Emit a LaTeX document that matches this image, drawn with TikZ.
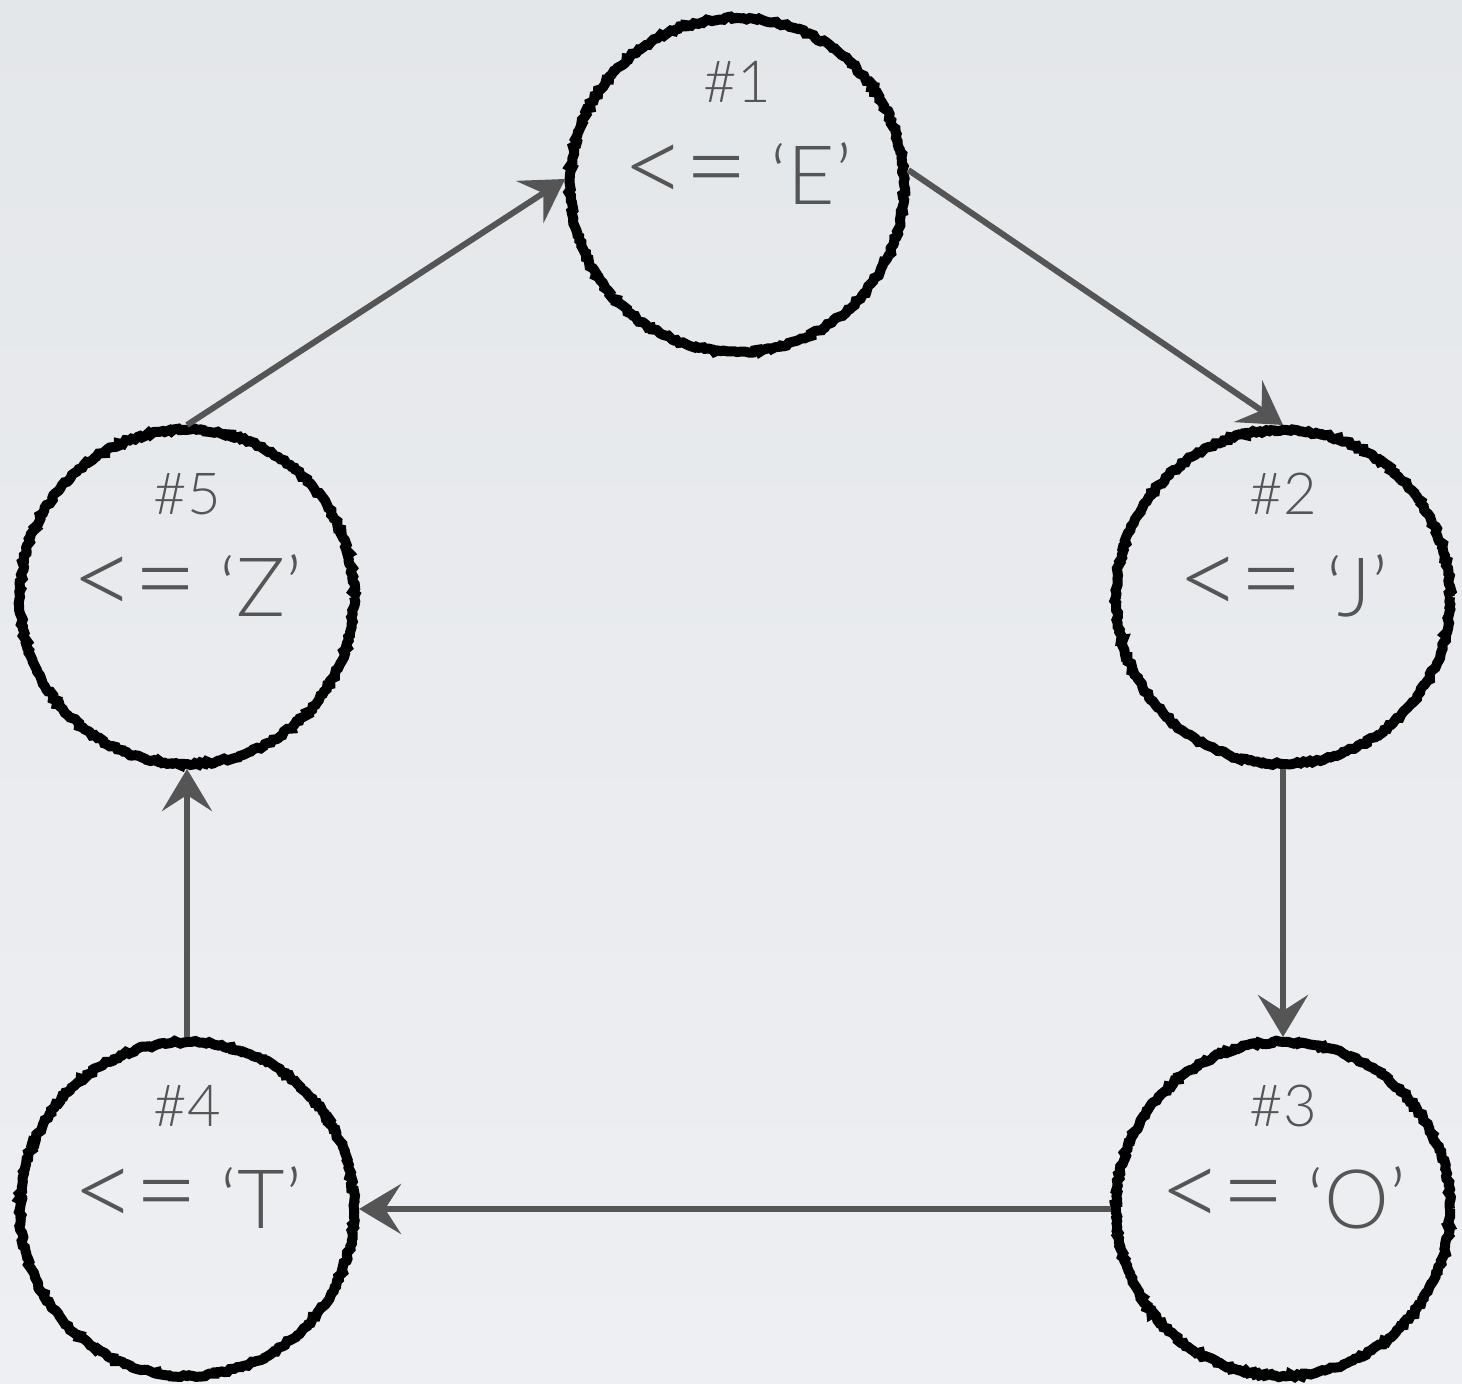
\documentclass[tikz,border=0pt]{standalone}
\usepackage{fontspec}
\IfFontExistsTF{Lato Light}{\setmainfont{Lato Light}}{\setmainfont{Lato}}
\usetikzlibrary{arrows.meta,decorations.pathmorphing}
\definecolor{bgtop}{HTML}{E4E7EA}
\definecolor{bgbot}{HTML}{EEEFF2}
\definecolor{txtgrey}{HTML}{555555}
\definecolor{arrgrey}{HTML}{555555}
\newcommand{\lesseq}{\scalebox{1.35}{<\kern-0.02em=}}
\begin{document}
\pgfmathsetseed{7}
\begin{tikzpicture}[x=1pt,y=1pt,
  statenode/.style={circle, draw=black, line width=10pt, minimum size=334pt, inner sep=0pt, outer sep=5pt,
    decorate, decoration={random steps, segment length=3pt, amplitude=1.5pt}},
  numtxt/.style={anchor=base, text=txtgrey, inner sep=0pt, font=\fontsize{58}{60}\selectfont},
  cmptxt/.style={anchor=base, text=txtgrey, inner sep=0pt, font=\fontsize{82}{86}\selectfont},
  link/.style={draw=arrgrey, line width=6pt, -{Stealth[length=42pt,width=50pt,inset=16pt]}}
]
\fill[top color=bgtop, bottom color=bgbot] (0,0) rectangle (1462,1384);

\node[statenode] (c1) at (737,1199) {};
\node[statenode] (c2) at (1283,787) {};
\node[statenode] (c3) at (1283,175) {};
\node[statenode] (c4) at (187,175) {};
\node[statenode] (c5) at (187,787) {};

\node[numtxt] (n1) at ([yshift=82pt]c1.center) {\#1};
\node[cmptxt] (v1) at ([yshift=-20pt]c1.center) {\lesseq\ ‘E’};
\node[numtxt] (n2) at ([yshift=82pt]c2.center) {\#2};
\node[cmptxt] (v2) at ([yshift=-20pt]c2.center) {\lesseq\ ‘J’};
\node[numtxt] (n3) at ([yshift=82pt]c3.center) {\#3};
\node[cmptxt] (v3) at ([yshift=-20pt]c3.center) {\lesseq\ ‘O’};
\node[numtxt] (n4) at ([yshift=82pt]c4.center) {\#4};
\node[cmptxt] (v4) at ([yshift=-20pt]c4.center) {\lesseq\ ‘T’};
\node[numtxt] (n5) at ([yshift=82pt]c5.center) {\#5};
\node[cmptxt] (v5) at ([yshift=-20pt]c5.center) {\lesseq\ ‘Z’};

\draw[link] (c5.north) -- (c1.178);
\draw[link] (c1.5) -- (c2.north);
\draw[link] (c2.south) -- (c3.north);
\draw[link] (c3.west) -- (c4.east);
\draw[link] (c4.north) -- (c5.south);

\pgfresetboundingbox
\useasboundingbox (0,0) rectangle (1462,1384);
\end{tikzpicture}
\end{document}
